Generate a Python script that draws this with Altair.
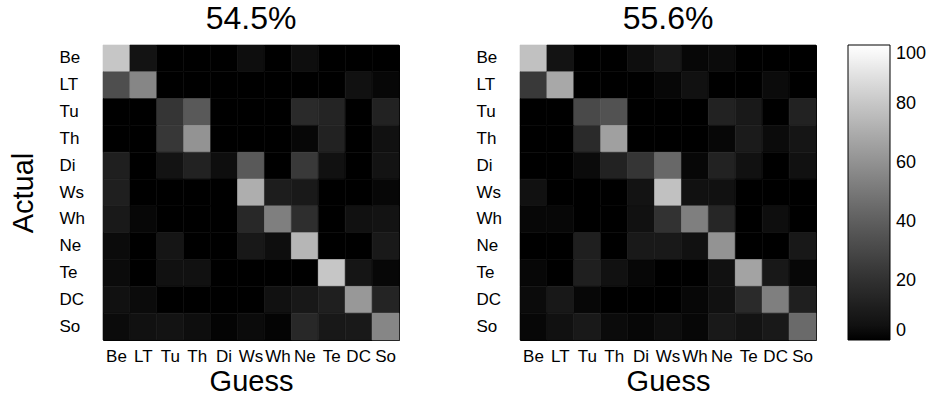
import altair as alt
import pandas as pd

categories = ["Be", "LT", "Tu", "Th", "Di", "Ws", "Wh", "Ne", "Te", "DC", "So"]
titles = ["54.5%", "55.6%"]

left_values = [
    [80, 6, 0, 0, 0, 4, 0, 4, 0, 0, 0],
    [33, 56, 0, 0, 0, 0, 0, 0, 0, 5, 2],
    [0, 0, 22, 38, 0, 0, 0, 17, 14, 0, 13],
    [0, 0, 23, 61, 0, 0, 0, 2, 13, 0, 5],
    [12, 0, 6, 13, 4, 38, 0, 24, 5, 0, 6],
    [12, 0, 0, 0, 0, 71, 11, 9, 0, 0, 2],
    [9, 2, 0, 0, 0, 16, 53, 19, 0, 5, 6],
    [3, 0, 7, 0, 0, 8, 4, 74, 0, 0, 9],
    [3, 0, 5, 5, 0, 0, 0, 0, 80, 7, 2],
    [5, 3, 0, 0, 0, 0, 5, 8, 12, 63, 14],
    [3, 5, 6, 4, 1, 3, 1, 16, 8, 9, 56],
]

right_values = [
    [78, 6, 0, 0, 4, 8, 2, 3, 0, 0, 0],
    [24, 69, 0, 0, 0, 2, 5, 0, 0, 3, 0],
    [0, 0, 31, 35, 0, 0, 0, 13, 9, 0, 13],
    [0, 0, 17, 66, 0, 0, 0, 2, 10, 3, 7],
    [0, 0, 3, 13, 22, 44, 2, 13, 5, 0, 5],
    [5, 0, 0, 0, 6, 78, 5, 5, 0, 0, 0],
    [2, 2, 0, 0, 5, 21, 53, 15, 0, 4, 0],
    [0, 0, 12, 0, 9, 9, 5, 61, 0, 0, 8],
    [2, 0, 12, 5, 2, 0, 0, 5, 67, 8, 2],
    [3, 8, 2, 0, 0, 0, 2, 5, 17, 53, 12],
    [2, 5, 9, 3, 2, 4, 2, 9, 6, 9, 45],
]

FONT = "Liberation Sans"


def gray():
    return alt.Scale(domain=[0, 100], range=["#000000", "#ffffff"])


def to_df(m):
    rows = []
    for i, a in enumerate(categories):
        for j, g in enumerate(categories):
            rows.append({"Actual": a, "Guess": g, "value": m[i][j]})
    return pd.DataFrame(rows)


color = alt.Color(
    "value:Q",
    scale=gray(),
    legend=alt.Legend(
        title=None,
        orient="none",
        legendX=745,
        legendY=0,
        direction="vertical",
        gradientLength=295,
        gradientThickness=42,
        gradientStrokeColor="black",
        gradientStrokeWidth=1,
        values=[0, 20, 40, 60, 80, 100],
        labelFontSize=18,
        labelFont=FONT,
        labelColor="black",
        labelOffset=6,
    ),
)


def panel(m, title, show_y_title):
    yaxis = dict(labelFontSize=17, labelAlign="left", labelPadding=44,
                 ticks=False, domain=False, grid=False, labelColor="black")
    if show_y_title:
        yaxis.update(title="Actual", titleFontSize=29, titleFontWeight="normal",
                     titlePadding=21, titleColor="black")
    else:
        yaxis.update(title=None)
    return (
        alt.Chart(to_df(m), title=alt.TitleParams(title, fontSize=32, font=FONT,
                                                   fontWeight="normal", offset=9,
                                                   color="black"))
        .transform_calculate(sv="datum.value")
        .mark_rect(strokeWidth=0.6)
        .encode(
            x=alt.X("Guess:N", sort=categories,
                    axis=alt.Axis(title="Guess", labelAngle=0, labelFontSize=17,
                                  labelPadding=8, ticks=False, domain=False, grid=False,
                                  titleFontSize=29, titleFontWeight="normal",
                                  titlePadding=3, labelOverlap=False,
                                  labelColor="black", titleColor="black")),
            y=alt.Y("Actual:N", sort=categories, axis=alt.Axis(**yaxis)),
            color=color,
            stroke=alt.Stroke("sv:Q", scale=gray(), legend=None),
        )
        .properties(width=296, height=295)
    )


chart = (
    alt.hconcat(panel(left_values, titles[0], True),
                panel(right_values, titles[1], False), spacing=75)
    .resolve_scale(stroke="independent")
    .properties(padding={"left": 8, "top": 2, "right": 2, "bottom": 2})
    .configure(font=FONT)
    .configure_view(stroke="black", strokeWidth=1)
)

chart.save("out.html", embed_options={"renderer": "svg", "actions": False})
